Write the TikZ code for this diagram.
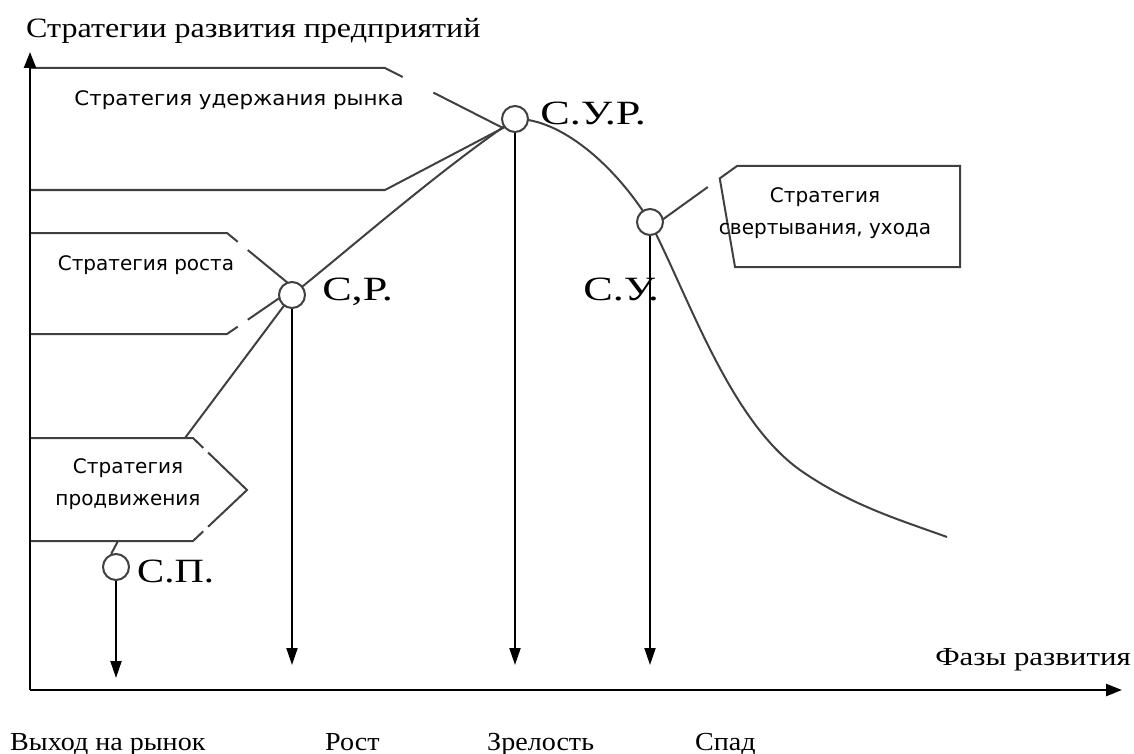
\documentclass[tikz,border=0pt]{standalone}
\usepackage{fontspec}
\setmainfont{Liberation Serif}
\newfontfamily\stratfont{DejaVu Sans}
\usetikzlibrary{arrows.meta,calc,backgrounds}

\begin{document}
\begin{tikzpicture}[x = 1pt, y = -1pt,
        pennant/.style = {line width = 2, black!75},
        curveline/.style = {line width = 2, black!75},
        axis/.style = {line width = 2.4, -{Triangle[length = 16, width = 12]}},
        drop/.style = {line width = 2, -{Triangle[length = 17, width = 11]}},
        point/.style = {circle, draw = black!75, line width = 2, fill = white, minimum size = 26, inner sep = 0},
        tag/.style = {font = \fontsize{34}{34}\selectfont, anchor = base west, inner sep = 0, xscale = 1.3},
        phase/.style = {font = \fontsize{26}{26}\selectfont, anchor = base west, inner sep = 0, xscale = 1.08},
        strat/.style = {font = \stratfont\fontsize{20}{32}\selectfont, align = center}]
    \useasboundingbox (0, 0) rectangle (1134, 754);

    % axes
    \coordinate (o) at (30, 690);
    \coordinate (ytop) at (30, 52);
    \coordinate (xend) at (1122, 690);
    \draw [axis] (o) -- (ytop);
    \draw [axis] (o) -- (xend);
    \node [phase, font = \fontsize{28}{28}\selectfont, xscale = 1.06] (title) at (26, 38) {Стратегии развития предприятий};
    \node [phase, xscale = 1.1] (phases) at (935, 665) {Фазы развития};

    % strategy points
    \node [point] (sp) at (116, 567) {};
    \node [point] (sr) at (292, 295) {};
    \node [point] (sur) at (515, 119) {};
    \node [point] (su) at (650, 222) {};
    \node [tag, xscale = .92] (sptag) at (137, 582) {С.П.};
    \node [tag] (srtag) at (322, 300) {С,Р.};
    \node [tag] (surtag) at (540, 125) {С.У.Р.};
    \node [tag] (sutag) at (583, 300) {С.У.};

    % pennants
    \coordinate (a1) at (30, 68);   \coordinate (b1) at (385, 68);
    \coordinate (t1) at (503, 128);
    \coordinate (c1) at (385, 190); \coordinate (d1) at (30, 190);
    \coordinate (a2) at (30, 233);  \coordinate (b2) at (227, 233);
    \coordinate (t2) at (294, 288);
    \coordinate (c2) at (227, 334); \coordinate (d2) at (30, 334);
    \coordinate (a3) at (30, 438);  \coordinate (b3) at (193, 438);
    \coordinate (t3) at (247, 490);
    \coordinate (c3) at (193, 541); \coordinate (d3) at (30, 541);
    \coordinate (b4) at (737, 166); \coordinate (e4) at (960, 166);
    \coordinate (t4) at (662, 220);
    \coordinate (c4) at (735, 267); \coordinate (f4) at (960, 267);
    \coordinate (start) at (185, 438);
    \coordinate (tail) at (947, 537);
    \coordinate (spstem) at (118, 541);

    \begin{scope}[on background layer]
        \draw [pennant] (a1) -- (b1) -- ($(b1)!.15!(t1)$) ($(b1)!.41!(t1)$) -- (t1) -- (c1) -- (d1);
        \draw [pennant] (a2) -- (b2) -- ($(b2)!.16!(t2)$) ($(b2)!.31!(t2)$) -- (t2)
            -- ($(c2)!.31!(t2)$) ($(c2)!.16!(t2)$) -- (c2) -- (d2);
        \draw [pennant] (a3) -- (b3) -- ($(b3)!.19!(t3)$) ($(b3)!.28!(t3)$) -- (t3)
            -- ($(c3)!.28!(t3)$) ($(c3)!.19!(t3)$) -- (c3) -- (d3);
        \draw [pennant] (t4) -- ($(b4)!.39!(t4)$) ($(b4)!.23!(t4)$) -- (b4) -- (e4) -- (f4) -- (c4) -- cycle;
        \draw [curveline] (start) -- (sr.center) .. controls (360, 240) and (440, 170) .. (sur.center)
            .. controls (560, 118) and (615, 165) .. (su.center)
            .. controls (690, 300) and (730, 420) .. (800, 470)
            .. controls (850, 505) and (900, 520) .. (tail);
    \end{scope}
    \draw [pennant] (spstem) -- (sp.110);

    \node [strat, xscale = 1.07] (keep) at (239, 100) {Стратегия удержания рынка};
    \node [strat] (grow) at (146, 265) {Стратегия роста};
    \node [strat] (promo) at (128, 484) {Стратегия\\продвижения};
    \node [strat] (exit) at (825, 213) {Стратегия\\свертывания, ухода};

    % phases
    \coordinate (spend) at (116, 678);
    \coordinate (srend) at (292, 665);
    \coordinate (surend) at (515, 665);
    \coordinate (suend) at (650, 665);
    \draw [drop] (sp) -- (spend);
    \draw [drop] (sr) -- (srend);
    \draw [drop] (sur) -- (surend);
    \draw [drop] (su) -- (suend);
    \node [phase] (entry) at (10, 750) {Выход на рынок};
    \node [phase] (growth) at (325, 750) {Рост};
    \node [phase] (mature) at (487, 750) {Зрелость};
    \node [phase] (decline) at (695, 750) {Спад};
\end{tikzpicture}
\end{document}
